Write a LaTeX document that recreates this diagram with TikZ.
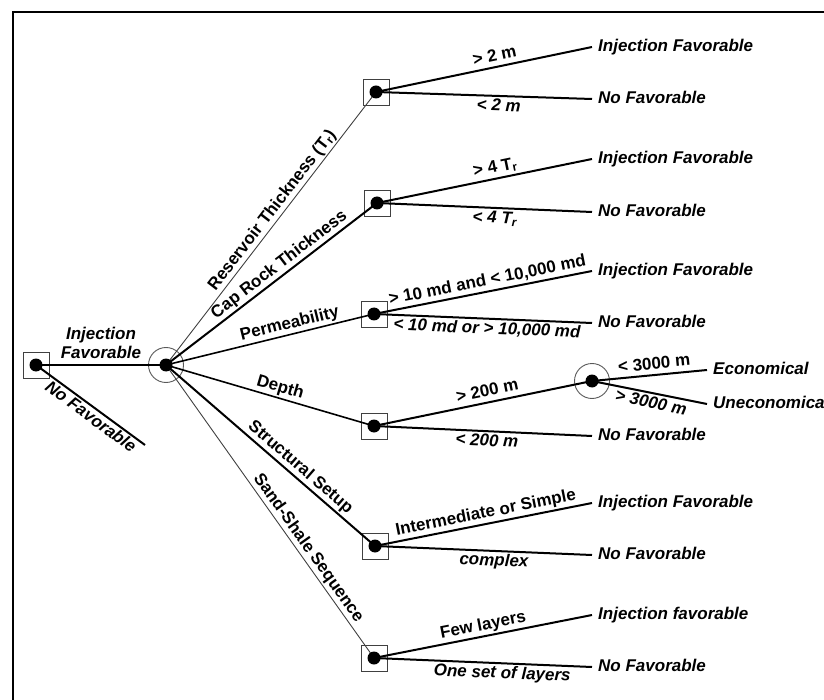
\documentclass[tikz,border=0pt]{standalone}
\usepackage{fontspec}
\setmainfont{Liberation Sans}
\begin{document}
\begin{tikzpicture}[x=1pt,y=-1pt]
\tikzset{
  lbl/.style={font=\fontsize{17}{20}\selectfont\bfseries, text height=12.5pt, text depth=3.5pt, inner sep=1.5pt},
  ilbl/.style={lbl, font=\fontsize{17}{20}\selectfont\bfseries\itshape},
  endlbl/.style={ilbl, anchor=west, inner xsep=6pt},
  boxnode/.style={draw=black!75, line width=0.9pt, minimum size=26pt, inner sep=0pt},
  dotnode/.style={circle, fill=black, minimum size=13pt, inner sep=0pt},
  ring/.style={circle, draw=black!65, line width=0.9pt, minimum size=35pt, inner sep=0pt},
  heavy/.style={line width=2pt},
  medium/.style={line width=1.6pt},
  light/.style={line width=0.9pt, draw=black!75},
}
\useasboundingbox (0,0) rectangle (824,700);
\draw[line width=2pt] (13,702) -- (13,12) -- (826,12);

% nodes
\node[boxnode] (R) at (36,365) {};
\node[ring] (C) at (166,365) {};
\coordinate (Rn) at (145,445);
\node[boxnode] (B1) at (376,92) {};
\node[boxnode] (B2) at (377,203) {};
\node[boxnode] (B3) at (374,314) {};
\node[boxnode] (B4) at (374,426) {};
\node[boxnode] (B5) at (375,546) {};
\node[boxnode] (B6) at (374,658) {};
\node[ring] (E) at (592,381) {};

\node[endlbl] (T1a) at (592,47) {Injection Favorable};
\node[endlbl] (T1b) at (592,99) {No Favorable};
\node[endlbl] (T2a) at (592,159) {Injection Favorable};
\node[endlbl] (T2b) at (592,212) {No Favorable};
\node[endlbl] (T3a) at (592,271) {Injection Favorable};
\node[endlbl] (T3b) at (592,323) {No Favorable};
\node[endlbl] (T4b) at (592,436) {No Favorable};
\node[endlbl] (TEa) at (707,370) {Economical};
\node[endlbl] (TEb) at (707,404) {Uneconomical};
\node[endlbl] (T5a) at (592,503) {Injection Favorable};
\node[endlbl] (T5b) at (592,555) {No Favorable};
\node[endlbl] (T6a) at (592,615) {Injection favorable};
\node[endlbl] (T6b) at (592,667) {No Favorable};

% root edges
\draw[heavy] (R.center) -- node[ilbl, above, align=center, pos=0.5] {Injection\\Favorable} (C.center);
\draw[heavy] (R.center) -- node[ilbl, below, sloped, pos=0.555] {No Favorable} (Rn);

% main branches
\draw[light] (C.center) -- node[lbl, above, sloped, pos=0.544] {Reservoir Thickness (T\textsubscript{r})} (B1.center);
\draw[heavy] (C.center) -- node[lbl, above, sloped, pos=0.567] {Cap Rock Thickness} (B2.center);
\draw[medium] (C.center) -- node[lbl, above, sloped, pos=0.606] {Permeability} (B3.center);
\draw[medium] (C.center) -- node[lbl, above, sloped, pos=0.535] {Depth} (B4.center);
\draw[heavy] (C.center) -- node[lbl, above, sloped, pos=0.61] {Structural Setup} (B5.center);
\draw[light] (C.center) -- node[lbl, above, sloped, pos=0.645] {Sand-Shale Sequence} (B6.center);

% sub-branches
\draw[heavy] (B1.center) -- node[lbl, above, sloped, pos=0.56] {> 2 m} (T1a.west);
\draw[heavy] (B1.center) -- node[ilbl, below, sloped, pos=0.57] {< 2 m} (T1b.west);
\draw[heavy] (B2.center) -- node[lbl, above, sloped, pos=0.56] {> 4 T\textsubscript{r}} (T2a.west);
\draw[heavy] (B2.center) -- node[ilbl, below, sloped, pos=0.55] {< 4 T\textsubscript{r}} (T2b.west);
\draw[heavy] (B3.center) -- node[lbl, above, sloped, pos=0.53] {> 10 md and < 10,000 md} (T3a.west);
\draw[heavy] (B3.center) -- node[ilbl, below, sloped, pos=0.52] {< 10 md or > 10,000 md} (T3b.west);
\draw[heavy] (B4.center) -- node[lbl, above, sloped, pos=0.53] {> 200 m} (E.center);
\draw[heavy] (B4.center) -- node[ilbl, below, sloped, pos=0.52] {< 200 m} (T4b.west);
\draw[heavy] (E.center) -- node[lbl, above, sloped, pos=0.55] {< 3000 m} (TEa.west);
\draw[heavy] (E.center) -- node[ilbl, below, sloped, pos=0.53] {> 3000 m} (TEb.west);
\draw[heavy] (B5.center) -- node[lbl, above, sloped, pos=0.52] {Intermediate or Simple} (T5a.west);
\draw[heavy] (B5.center) -- node[ilbl, below, sloped, pos=0.55] {complex} (T5b.west);
\draw[heavy] (B6.center) -- node[lbl, above, sloped, pos=0.51] {Few layers} (T6a.west);
\draw[heavy] (B6.center) -- node[ilbl, below, sloped, pos=0.59] {One set of layers} (T6b.west);

% dots
\foreach \n in {R,C,B1,B2,B3,B4,B5,B6,E} \node[dotnode] at (\n.center) {};
\end{tikzpicture}
\end{document}
